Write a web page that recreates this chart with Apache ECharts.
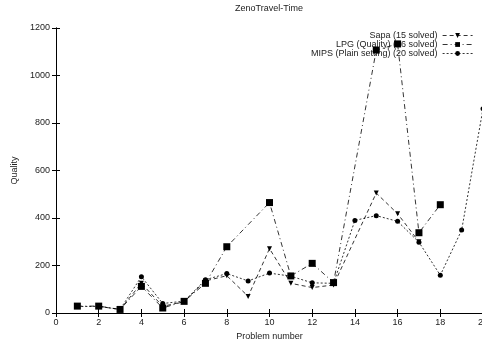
<!DOCTYPE html>
<html><head><meta charset="utf-8">
<script src="https://cdn.jsdelivr.net/npm/echarts@6/dist/echarts.min.js"></script>
<style>html,body{margin:0;padding:0;background:#fff}#c{width:482px;height:343px}</style>
</head><body><div id="c"></div>
<script>
const problems = [1,2,3,4,5,6,7,8,9,10,11,12,13,14,15,16,17,18,19,20];
const sapa = [null,28,15,125,28,48,135,157,70,271,125,107,118,null,505,418,300,null,null,null];
const lpg  = [29,29,15,112,21,49,125,279,null,465,156,209,128,null,1107,1133,338,456,null,null];
const mips = [27,28,15,153,40,50,140,166,135,168,155,127,125,390,410,386,298,159,349,860];
const xTicks = [0,2,4,6,8,10,12,14,16,18,20];
const yTicks = [0,200,400,600,800,1000,1200];
const seriesNames = ['Sapa (15 solved)','LPG (Quality) (16 solved)','MIPS (Plain setting) (20 solved)'];

function pairs(arr){ return problems.map((p,i)=>[p, arr[i]]); }
const font = 'Liberation Sans, Arial, sans-serif';
const chart = echarts.init(document.getElementById('c'));
const axisLine = {lineStyle:{color:'#000',width:1}};
chart.setOption({
  animation:false,
  textStyle:{fontFamily:font},
  grid:{left:56,right:-1,top:28,bottom:30,outerBoundsMode:'none',containLabel:false},
  graphic:[{type:'text',x:269,y:4,style:{text:'ZenoTravel-Time',font:'9px '+font,fill:'#222',textAlign:'center'}}],
  legend:{
    orient:'vertical', right:9, top:31, align:'right', itemGap:0, itemWidth:30, itemHeight:6, padding:0,
    lineStyle:{width:0.8},
    textStyle:{fontSize:9,color:'#222',fontFamily:font},
    data:seriesNames
  },
  xAxis:[{
    type:'value', min:0, max:20, interval:2,
    name:'Problem number', nameLocation:'middle', nameGap:17,
    nameTextStyle:{fontSize:9,color:'#222'},
    axisLine:axisLine, axisTick:{inside:true,length:4,lineStyle:{color:'#000'}},
    axisLabel:{fontSize:9,color:'#222',margin:5,hideOverlap:false,showMaxLabel:true,
      formatter:v=>xTicks.indexOf(v)>=0?String(v):''},
    splitLine:{show:false}
  },{
    type:'value', min:0, max:20, interval:2, position:'top',
    axisLine:axisLine, axisTick:{inside:true,length:4,lineStyle:{color:'#000'}},
    axisLabel:{show:false}, splitLine:{show:false}
  }],
  yAxis:[{
    type:'value', min:0, max:1200, interval:200,
    name:'Quality', nameLocation:'middle', nameGap:30, nameRotate:90,
    nameTextStyle:{fontSize:9,color:'#222'},
    axisLine:axisLine, axisTick:{inside:true,length:4,lineStyle:{color:'#000'}},
    axisLabel:{fontSize:9,color:'#222',margin:6,
      formatter:v=>yTicks.indexOf(v)>=0?String(v):''},
    splitLine:{show:false}
  },{
    type:'value', min:0, max:1200, interval:200, position:'right',
    axisLine:axisLine, axisTick:{inside:true,length:4,lineStyle:{color:'#000'}},
    axisLabel:{show:false}, splitLine:{show:false}
  }],
  series:[{
    name:seriesNames[0], type:'line', data:pairs(sapa), connectNulls:true,
    symbol:'triangle', symbolRotate:180, symbolSize:5, showAllSymbol:true,
    lineStyle:{color:'#000',width:0.8,type:[4,3]}, itemStyle:{color:'#000'}, z:3
  },{
    name:seriesNames[1], type:'line', data:pairs(lpg), connectNulls:true,
    symbol:'rect', symbolSize:7, showAllSymbol:true,
    lineStyle:{color:'#000',width:0.8,type:[5,3,1,3]}, itemStyle:{color:'#000'}, z:4
  },{
    name:seriesNames[2], type:'line', data:pairs(mips), connectNulls:true,
    symbol:'circle', symbolSize:5, showAllSymbol:true,
    lineStyle:{color:'#000',width:0.8,type:[2,2]}, itemStyle:{color:'#000'}, z:2
  }]
});
</script></body></html>
